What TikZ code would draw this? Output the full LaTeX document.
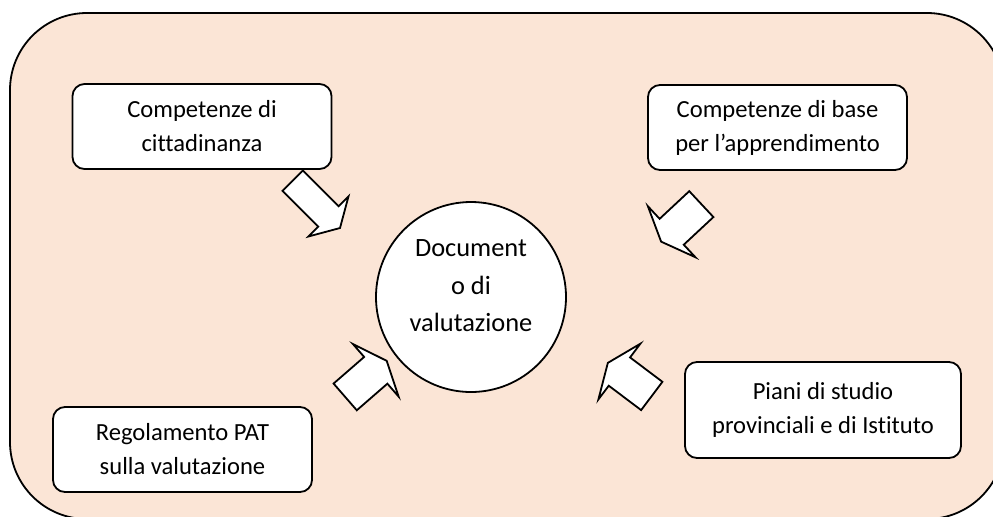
\documentclass[tikz,border=0pt]{standalone}
\usepackage{fontspec}
\setmainfont{Carlito}[Ligatures=NoCommon]
\usetikzlibrary{shapes.arrows}

\definecolor{peach}{HTML}{FBE5D6}

\begin{document}
\begin{tikzpicture}[x=0.5pt,y=-0.5pt,
		box/.style={draw, line width=0.9pt, fill=white, rounded corners=6pt, align=center, minimum width=129.5pt, minimum height=42.5pt, font=\fontsize{12.3}{17}\selectfont},
		docu/.style={draw, line width=0.9pt, fill=white, circle, inner sep=0pt, minimum size=95pt},
		bigarrow/.style={draw, line width=0.9pt, fill=white, single arrow, anchor=tail, inner xsep=0pt, inner ysep=8.4pt, minimum height=27.5pt, single arrow head extend=8.6pt, single arrow tip angle=135}]
	\useasboundingbox (0,0) rectangle (993,516);
	\clip (0,0) rectangle (993,516);
	\draw[line width=0.9pt, fill=peach, rounded corners=38.5pt] (10,13) rectangle (1004,519);

	\node[box] (cit) at (202,126.5) {Competenze di\\cittadinanza};
	\node[box] (base) at (777.5,127.5) {Competenze di base\\per l’apprendimento};
	\node[box] (reg) at (182.5,449.5) {Regolamento PAT\\sulla valutazione};
	\node[box, minimum width=138pt, minimum height=48pt] (piani) at (823,410) {Piani di studio\\provinciali e di Istituto};

	\node[docu, label={[align=center, font=\fontsize{13.2}{18.75}\selectfont, yshift=5.5pt]center:Document\\o di\\valutazione}] (doc) at (471,297) {};

	\node[bigarrow, rotate=-45, minimum height=33.5pt, inner ysep=6.75pt, single arrow head extend=7pt, single arrow tip angle=120] (citarrow) at (292,180) {};
	\node[bigarrow, rotate=223] (basearrow) at (702,203.5) {};
	\node[bigarrow, rotate=41] (regarrow) at (344.5,397.5) {};
	\node[bigarrow, rotate=143] (pianiarrow) at (652.5,396.5) {};
\end{tikzpicture}
\end{document}
